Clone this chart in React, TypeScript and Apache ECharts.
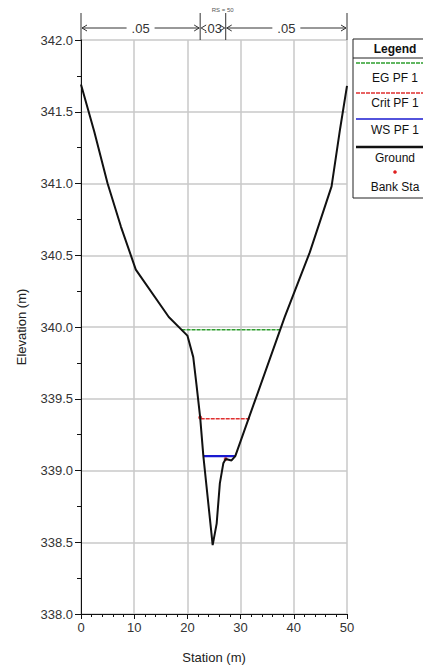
import React, { useEffect, useRef } from "react";
import * as echarts from "echarts";

const groundStation = [0, 2.5, 5, 7.5, 10.3, 16.5, 20, 21.1, 21.7, 22.4, 23.0, 24.75, 25.5, 26.1, 26.75, 27.2, 28.3, 29, 38.3, 43, 47.1, 48.7, 50];
const groundElev = [341.69, 341.36, 341.0, 340.7, 340.4, 340.07, 339.94, 339.79, 339.6, 339.37, 339.1, 338.48, 338.63, 338.91, 339.05, 339.08, 339.07, 339.1, 340.07, 340.52, 340.98, 341.38, 341.68];

const egStation = [18.9, 37.4];
const egElev = [339.98, 339.98];
const critStation = [22.5, 31.8];
const critElev = [339.36, 339.36];
const wsStation = [23.0, 29.0];
const wsElev = [339.1, 339.1];

const bankStation = [22.4, 27.2];
const bankElev = [339.37, 339.08];

const nValues = [".05", ".03", ".05"];
const riverStation = "RS = 50";
const legendItems = ["EG PF 1", "Crit PF 1", "WS PF 1", "Ground", "Bank Sta"];

const FONT = "'Liberation Sans', Arial, sans-serif";

function pairs(xs: number[], ys: number[]) {
  return xs.map((x, i) => [x, ys[i]]);
}

export default function App() {
  const ref = useRef<HTMLDivElement>(null);
  useEffect(() => {
    document.body.style.margin = "0";
    const chart = echarts.init(ref.current!, null, { renderer: "svg" });
    chart.setOption({
      animation: false,
      backgroundColor: "#ffffff",
      textStyle: { fontFamily: FONT },
      grid: { left: 81, right: 76, top: 40, bottom: 51 },
      xAxis: {
        type: "value",
        min: 0,
        max: 50,
        interval: 10,
        name: "Station (m)",
        nameLocation: "middle",
        nameGap: 37,
        nameTextStyle: { fontSize: 13, color: "#222", fontFamily: FONT },
        axisLine: { lineStyle: { color: "#111", width: 1 } },
        axisTick: { show: true, inside: false, length: 5, lineStyle: { color: "#111" } },
        minorTick: { show: true, splitNumber: 5, length: 3, lineStyle: { color: "#111" } },
        axisLabel: { fontSize: 13, color: "#333", margin: 7, fontFamily: FONT },
        splitLine: { show: true, lineStyle: { color: "#c8c8c8", width: 1.5 } },
      },
      yAxis: {
        type: "value",
        min: 338,
        max: 342,
        interval: 0.5,
        name: "Elevation (m)",
        nameLocation: "middle",
        nameGap: 53,
        nameRotate: 90,
        nameTextStyle: { fontSize: 13, color: "#222", fontFamily: FONT },
        axisLine: { show: true, lineStyle: { color: "#111", width: 1 } },
        axisTick: { show: true, inside: false, length: 6, lineStyle: { color: "#111" } },
        minorTick: { show: true, splitNumber: 2, length: 4, lineStyle: { color: "#111" } },
        axisLabel: { fontSize: 13, color: "#333", margin: 8, fontFamily: FONT, formatter: (v: number) => v.toFixed(1) },
        splitLine: { show: true, lineStyle: { color: "#c8c8c8", width: 1.5 } },
      },
      series: [
        {
          name: "EG PF 1",
          type: "line",
          data: pairs(egStation, egElev),
          showSymbol: false,
          lineStyle: { color: "#2e9e2e", width: 1.5, type: [4, 1] },
        },
        {
          name: "Crit PF 1",
          type: "line",
          data: pairs(critStation, critElev),
          showSymbol: false,
          lineStyle: { color: "#e03030", width: 1.5, type: [4, 1] },
        },
        {
          name: "WS PF 1",
          type: "line",
          data: pairs(wsStation, wsElev),
          showSymbol: false,
          lineStyle: { color: "#1a1ad0", width: 2.2 },
        },
        {
          name: "Ground",
          type: "line",
          data: pairs(groundStation, groundElev),
          showSymbol: false,
          lineStyle: { color: "#111", width: 2 },
        },
        {
          name: "Bank Sta",
          type: "scatter",
          data: pairs(bankStation, bankElev),
          symbolSize: 4,
          itemStyle: { color: "#e02020" },
        },
      ],
    });

    const px = (x: number, y: number) => chart.convertToPixel({ gridIndex: 0 }, [x, y]) as number[];
    const [xL, yTop] = px(0, 342);
    const [xR] = px(50, 342);
    const xB1 = px(bankStation[0], 342)[0];
    const xB2 = px(bankStation[1], 342)[0];
    const arrowY = yTop - 12;
    const vTop = yTop - 27;
    const lineSt = { stroke: "#333", lineWidth: 1 };
    const g: any[] = [];
    [xL, xB1, xB2, xR].forEach((x) => {
      g.push({ type: "line", shape: { x1: x, y1: vTop, x2: x, y2: yTop }, style: lineSt });
    });
    const segs = [
      [xL, xB1],
      [xB1, xB2],
      [xB2, xR],
    ];
    segs.forEach(([a, b], i) => {
      const mid = (a + b) / 2;
      const tw = i === 1 ? 0 : 14;
      if (i !== 1) {
        g.push({ type: "line", shape: { x1: a + 1, y1: arrowY, x2: mid - tw, y2: arrowY }, style: lineSt });
        g.push({ type: "line", shape: { x1: mid + tw, y1: arrowY, x2: b - 1, y2: arrowY }, style: lineSt });
      }
      g.push({ type: "polyline", shape: { points: [[a + 6, arrowY - 3], [a + 1, arrowY], [a + 6, arrowY + 3]] }, style: { stroke: "#333", lineWidth: 1, fill: null } });
      g.push({ type: "polyline", shape: { points: [[b - 6, arrowY - 3], [b - 1, arrowY], [b - 6, arrowY + 3]] }, style: { stroke: "#333", lineWidth: 1, fill: null } });
      g.push({
        type: "text",
        x: mid,
        y: arrowY,
        style: { text: nValues[i], fontSize: 13, fill: "#333", fontFamily: FONT, align: "center", verticalAlign: "middle", backgroundColor: i === 1 ? "transparent" : "#fff" },
        z: 10,
      });
    });
    g.push({
      type: "text",
      x: xB2 - 3,
      y: 10,
      style: { text: riverStation, fontSize: 6, fill: "#555", fontFamily: FONT, align: "center", verticalAlign: "middle" },
    });

    // Legend box
    const lx = 353;
    const ly = 39;
    const lw = 100;
    const cx = 395;
    g.push({ type: "rect", shape: { x: lx, y: ly, width: lw, height: 159 }, style: { fill: "#fff", stroke: "#222", lineWidth: 1 } });
    g.push({ type: "text", x: cx, y: 49, style: { text: "Legend", fontSize: 12, fontWeight: "bold", fill: "#111", fontFamily: FONT, align: "center", verticalAlign: "middle" } });
    g.push({ type: "line", shape: { x1: lx, y1: 58, x2: lx + lw, y2: 58 }, style: { stroke: "#222", lineWidth: 1 } });
    const symY = [63, 93, 119, 147, 172];
    const txtY = [78, 103, 130, 158, 187];
    const symStyles = [
      { stroke: "#2e9e2e", lineWidth: 1.5, lineDash: [4, 1] },
      { stroke: "#e03030", lineWidth: 1.5, lineDash: [4, 1] },
      { stroke: "#1a1ad0", lineWidth: 1.5 },
      { stroke: "#111", lineWidth: 2.5 },
    ];
    legendItems.forEach((name, i) => {
      if (i < 4) {
        g.push({ type: "line", shape: { x1: lx + 3, y1: symY[i], x2: lx + lw, y2: symY[i] }, style: symStyles[i] });
      } else {
        g.push({ type: "circle", shape: { cx: cx, cy: symY[i], r: 1.8 }, style: { fill: "#e02020" } });
      }
      g.push({ type: "text", x: cx, y: txtY[i], style: { text: name, fontSize: 12, fill: "#111", fontFamily: FONT, align: "center", verticalAlign: "middle" } });
    });

    chart.setOption({ graphic: g });
    return () => chart.dispose();
  }, []);
  return <div ref={ref} style={{ width: 423, height: 669 }} />;
}
